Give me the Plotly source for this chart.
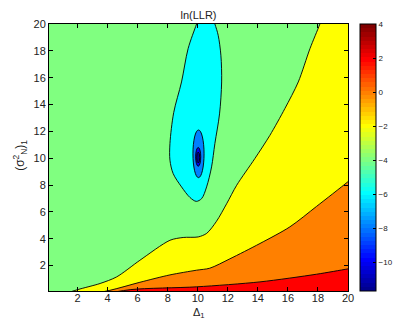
import numpy as np
import plotly.graph_objects as go

# ---------------- data ----------------
x_range = [0.1, 20]
y_range = [0.1, 20]
x_ticks = [2, 4, 6, 8, 10, 12, 14, 16, 18, 20]
y_ticks = [2, 4, 6, 8, 10, 12, 14, 16, 18, 20]
cbar_range = [-11.7, 4]
cbar_ticks = [4, 2, 0, -2, -4, -6, -8, -10]

# contour ln(LLR) = -2  (green / yellow)
lvl_m2_x = [0.6, 2.0, 3.5, 4.6, 6.15, 8.15, 9.03, 10.03, 10.6, 11.25, 11.92, 12.59, 13.8, 14.8, 15.8, 16.69, 17.47, 18.13, 18.45]
lvl_m2_y = [-0.3, 0.2, 0.66, 1.15, 2.39, 3.88, 4.09, 4.13, 4.4, 5.3, 6.6, 7.98, 9.97, 11.7, 13.7, 15.68, 18.17, 20.0, 21.0]
# contour 0 (yellow / orange)
lvl_0_x = [2.0, 4.15, 6.15, 8.15, 9.92, 10.8, 12.14, 14.14, 16.13, 17.9, 20.0, 21.0]
lvl_0_y = [-0.3, 0.15, 0.75, 1.3, 1.65, 1.8, 2.5, 3.64, 4.88, 6.4, 8.25, 9.2]
# contour 2 (orange / red)
lvl_2_x = [3.0, 5.5, 9.92, 14.14, 17.9, 20.0, 21.0]
lvl_2_y = [-0.3, 0.2, 0.41, 0.78, 1.35, 1.75, 1.95]
# contour -4 (closed, cyan island)
lvl_m4_x = [10.5, 10.95, 11.14, 11.36, 11.54, 11.59, 11.45, 11.14, 10.92, 10.59, 10.26, 9.9,
            9.48, 8.92, 8.36, 8.15, 8.15, 8.4, 8.92, 9.36, 9.92, 10.1, 10.5]
lvl_m4_y = [21.0, 20.6, 20.0, 19.16, 17.67, 15.68, 13.3, 11.09, 9.35, 7.86, 6.99, 6.78,
            7.07, 7.86, 8.86, 9.85, 11.09, 13.4, 15.68, 18.17, 20.0, 20.6, 21.0]
# inner closed contours -6, -8, -10 : [x0, x1, y0, y1]
lvl_m6_box = [9.68, 10.42, 8.55, 12.1]
lvl_m8_box = [9.86, 10.2, 9.4, 10.8]
lvl_m10_box = [9.93, 10.13, 9.65, 10.45]

# ---------------- colormap ----------------
def jet(m=64):
    n = int(np.ceil(m / 4))
    u = np.concatenate([np.arange(1, n + 1) / n, np.ones(n - 1), np.arange(n, 0, -1) / n])
    g = int(np.ceil(n / 2)) - (1 if m % 4 == 1 else 0) + np.arange(1, len(u) + 1)
    r = g + n
    b = g - n
    J = np.zeros((m, 3))
    for arr, ch in ((r, 0), (g, 1), (b, 2)):
        mask = (arr >= 1) & (arr <= m)
        J[arr[mask] - 1, ch] = u[mask]
    return J

J = jet(64)
def rgb(c):
    return "rgb(%d,%d,%d)" % tuple(int(round(v * 255)) for v in c)

def level_color(v):
    i = int(np.floor((v - cbar_range[0]) / (cbar_range[1] - cbar_range[0]) * 64))
    i = min(max(i, 0), 63)
    return rgb(J[i])

colorscale = []
for k in range(64):
    colorscale.append([k / 64, rgb(J[k])])
    colorscale.append([(k + 1) / 64, rgb(J[k])])

c_green = level_color(-4)
c_yellow = level_color(-2)
c_orange = level_color(0)
c_red = level_color(2)
c_cyan = level_color(-6)
c_blue = level_color(-8)
c_dblue = level_color(-10)
c_navy = level_color(cbar_range[0])

fig = go.Figure()
LW = 0.9

# background region (-4 .. -2)
fig.add_trace(go.Scatter(x=[-1, 22, 22, -1], y=[-1, -1, 22, 22], fill="toself",
                         fillcolor=c_green, mode="lines", line=dict(width=0),
                         hoverinfo="skip", showlegend=False))

def region(cx, cy, color):
    xs = list(cx) + [22, 22, cx[0]]
    ys = list(cy) + [cy[-1], -1, -1]
    fig.add_trace(go.Scatter(x=xs, y=ys, fill="toself", fillcolor=color, mode="lines",
                             line=dict(width=LW, color="black", shape="spline", smoothing=0.8),
                             hoverinfo="skip", showlegend=False))

region(lvl_m2_x, lvl_m2_y, c_yellow)
region(lvl_0_x, lvl_0_y, c_orange)
region(lvl_2_x, lvl_2_y, c_red)

fig.add_trace(go.Scatter(x=lvl_m4_x, y=lvl_m4_y, fill="toself", fillcolor=c_cyan, mode="lines",
                         line=dict(width=LW, color="black", shape="spline", smoothing=0.9),
                         hoverinfo="skip", showlegend=False))

for box, col in ((lvl_m6_box, c_blue), (lvl_m8_box, c_dblue), (lvl_m10_box, c_navy)):
    fig.add_shape(type="circle", xref="x", yref="y", x0=box[0], x1=box[1], y0=box[2], y1=box[3],
                  fillcolor=col, line=dict(color="black", width=LW), layer="above")

# colorbar carrier
fig.add_trace(go.Scatter(x=[None], y=[None], mode="markers",
                         marker=dict(color=[cbar_range[0]], colorscale=colorscale,
                                     cmin=cbar_range[0], cmax=cbar_range[1], showscale=True,
                                     colorbar=dict(thickness=16, thicknessmode="pixels",
                                                   len=1, lenmode="fraction", y=0.5, yanchor="middle",
                                                   x=1.04, xanchor="left", xpad=0, ypad=0,
                                                   outlinecolor="black", outlinewidth=1,
                                                   tickvals=cbar_ticks, ticks="inside", ticklen=3,
                                                   tickcolor="black",
                                                   tickfont=dict(size=8, color="#222",
                                                                 family="Liberation Sans, Arial"))),
                         hoverinfo="skip", showlegend=False))

axis_common = dict(showline=True, linecolor="black", linewidth=1, mirror="ticks",
                   ticks="inside", ticklen=4, tickcolor="black", showgrid=False, zeroline=False,
                   tickfont=dict(size=11, color="#222", family="Liberation Sans, Arial"))
fig.update_xaxes(range=x_range, tickvals=x_ticks, ticklabelstandoff=-3, **axis_common)
fig.update_yaxes(range=y_range, tickvals=y_ticks, **axis_common)

fig.update_layout(
    width=393, height=320,
    margin=dict(l=49, r=45, t=24, b=29, autoexpand=False),
    paper_bgcolor="white", plot_bgcolor="white",
    font=dict(family="Liberation Sans, Arial", color="#222"),
    title=dict(text="ln(LLR)", x=0.5, xref="paper", xanchor="center", y=1, yref="paper",
               yanchor="bottom", pad=dict(b=5), font=dict(size=11, color="#222")),
    annotations=[
        dict(text="Δ<sub>1</sub>", xref="paper", yref="paper", x=0.5, y=-0.054,
             xanchor="center", yanchor="top", showarrow=False, borderpad=0,
             font=dict(size=11)),
        dict(text="(σ<sup>2</sup><sub>N</sub>)<sub>1</sub>", xref="paper", yref="paper",
             x=-0.097, y=0.51, xanchor="center", yanchor="middle", textangle=-90,
             showarrow=False, font=dict(size=12)),
    ],
)

fig.write_html("out.html")
